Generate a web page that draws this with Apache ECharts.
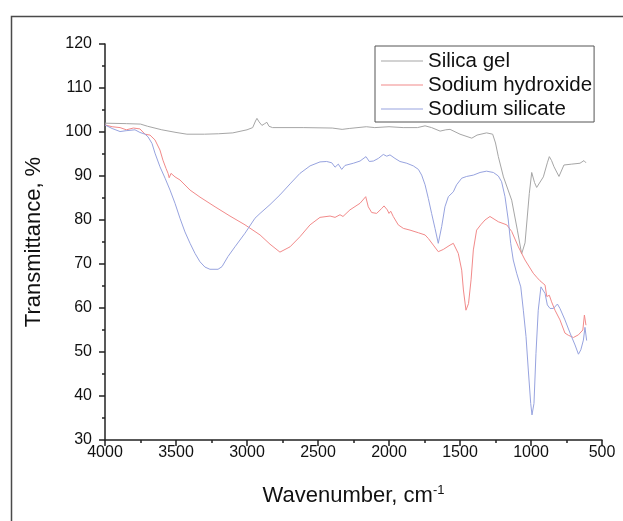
<!DOCTYPE html>
<html><head><meta charset="utf-8">
<script src="https://cdn.jsdelivr.net/npm/echarts@6/dist/echarts.min.js"></script>
<style>html,body{margin:0;padding:0;background:#fff}#c{width:623px;height:521px}</style>
</head><body><div id="c"></div>
<script>
const seriesNames = ['Silica gel', 'Sodium hydroxide', 'Sodium silicate'];
const xTicks = [4000, 3500, 3000, 2500, 2000, 1500, 1000, 500];
const yTicks = [30, 40, 50, 60, 70, 80, 90, 100, 110, 120];

const silicaWn = [4000,3850,3750,3700,3600,3500,3423,3300,3200,3100,3000,2960,2940,2930,2915,2895,2875,2860,2845,2820,2600,2400,2330,2280,2160,2100,2000,1900,1800,1746,1700,1640,1600,1570,1500,1417,1380,1313,1270,1250,1230,1194,1136,1096,1066,1042,1012,995,975,960,913,885,871,855,838,803,768,713,655,627,613];
const silicaT = [102,101.9,101.8,101.3,100.5,99.9,99.5,99.5,99.6,99.8,100.5,101,102.5,103.1,102.3,101.5,101.9,102.2,101.3,101,101,100.9,100.6,100.8,101.2,101,101.2,101,101,101.4,101,100.2,100.5,100.6,99.5,98.6,99.3,99.8,99.5,97.5,94.4,89.8,84.5,77.7,72.3,74.8,86,90.8,88.5,87.4,89.8,93,94.4,93.5,92.1,89.9,92.5,92.7,92.9,93.5,93];

const hydroxWn = [4000,3950,3894,3850,3800,3754,3718,3683,3648,3613,3592,3570,3556,3548,3535,3507,3472,3401,3331,3225,3120,3014,2908,2838,2768,2697,2627,2556,2486,2415,2380,2345,2324,2275,2204,2164,2146,2122,2087,2052,2035,2012,2000,1988,1970,1935,1899,1852,1793,1746,1723,1688,1653,1618,1570,1547,1512,1488,1476,1458,1440,1422,1406,1383,1354,1324,1289,1230,1171,1136,1089,1042,984,960,937,901,889,871,855,831,796,761,737,701,666,635,624,613];
const hydroxT = [101.6,101.2,101,100.5,100.9,100.7,99.5,99.3,98.2,95.9,93.6,91.7,90.6,89.6,90.6,89.8,89.1,86.8,85.2,83,80.9,78.9,76.6,74.5,72.7,73.9,76.2,78.9,80.6,80.9,80.6,81.2,80.8,82.3,83.8,85.3,83,81.7,81.5,82.6,83.2,82.3,81.5,82,80.8,78.9,78.1,77.7,77.1,76.6,75.8,74.3,72.8,73.3,74.3,74.7,72.4,68.6,64.1,59.5,61,66.4,73.2,77.7,78.9,80,80.8,79.6,78.9,77.4,73.9,70.9,67.9,67,66.2,65.2,62.6,62.9,61.4,59.5,57.3,54.3,53.8,53.3,53.9,55,58.4,56.1];

const silicateWn = [4000,3950,3894,3850,3789,3754,3718,3697,3669,3648,3613,3577,3542,3507,3472,3437,3401,3366,3331,3296,3261,3204,3176,3134,3085,3014,2944,2908,2838,2768,2697,2627,2556,2486,2439,2403,2380,2357,2333,2310,2251,2204,2162,2139,2110,2075,2040,2016,1993,1958,1923,1875,1829,1793,1770,1746,1723,1700,1676,1653,1629,1606,1582,1547,1524,1488,1453,1406,1359,1313,1265,1230,1207,1183,1160,1143,1125,1101,1072,1054,1035,1019,1002,993,979,965,949,930,921,901,885,866,842,814,796,761,725,690,666,649,631,620,608];
const silicateT = [101.6,100.8,100.1,100.3,100.5,99.9,99.5,98.9,97.4,95.2,92.1,89.5,86.8,83.8,80.4,77.3,74.7,72.4,70.5,69.3,68.8,68.8,69.4,71.7,73.9,77,80.4,81.5,83.5,85.7,88.2,90.6,92.3,93.2,93.3,93,92,92.7,91.5,92.4,92.9,93.4,94.4,93.3,93.4,94,94.9,94.5,94.8,94,93.3,92.9,92.3,91.5,90.2,88,84.9,81.5,78.1,74.7,78.5,83,85.3,86.4,88,89.5,89.9,90.2,90.8,91.1,90.8,90,88.7,85.3,80,74.7,70.9,67.9,64.8,59.5,53.5,45.9,38.3,35.7,38.3,49.7,59.5,64.8,65.2,63.3,60.7,59.9,59.9,60.9,59.9,57.3,54.3,51.6,49.5,50.5,52.7,55.6,52.6];

const pair = (xs, ys) => xs.map((x, i) => [x, ys[i]]);
const colors = ['#a6a6a6', '#f28a8a', '#97a3df'];
const font = '"Liberation Sans", Arial, sans-serif';

const chart = echarts.init(document.getElementById('c'), null, {renderer: 'canvas'});
chart.setOption({
  animation: false,
  backgroundColor: '#fff',
  color: colors,
  graphic: [{
    type: 'rect', left: 9, top: 14, silent: true,
    shape: {width: 700, height: 600},
    style: {fill: 'none', stroke: '#4a4a4a', lineWidth: 1.5}
  }],
  grid: {left: 105, right: 21, top: 44, bottom: 81, containLabel: false},
  legend: {
    orient: 'vertical', left: 375, top: 46,
    data: seriesNames,
    icon: 'rect', itemWidth: 42, itemHeight: 1, itemGap: 0,
    padding: [3, 2, 1, 6],
    borderColor: '#555', borderWidth: 1, borderRadius: 0,
    backgroundColor: '#fff',
    textStyle: {fontFamily: font, fontSize: 20.5, color: '#111', lineHeight: 24}
  },
  xAxis: {
    type: 'value', inverse: true, min: 500, max: 4000, interval: 500,
    name: 'Wavenumber, cm{sup|-1}', nameLocation: 'middle', nameGap: 44,
    nameTextStyle: {fontFamily: font, fontSize: 22, color: '#111',
      rich: {sup: {fontFamily: font, fontSize: 13, color: '#111', verticalAlign: 'top', padding: [0,0,10,0]}}},
    axisLine: {show: true, onZero: false, lineStyle: {color: '#222', width: 1.5}},
    axisTick: {show: true, inside: false, length: 6, lineStyle: {color: '#222', width: 1.5}},
    minorTick: {show: true, splitNumber: 2, length: 3, lineStyle: {color: '#222', width: 1.5}},
    axisLabel: {fontFamily: font, fontSize: 16, color: '#111', margin: 5,
      formatter: v => xTicks.includes(v) ? String(v) : ''},
    splitLine: {show: false}
  },
  yAxis: {
    type: 'value', min: 30, max: 120, interval: 10,
    name: 'Transmittance, %', nameLocation: 'middle', nameGap: 60, nameRotate: 90,
    nameTextStyle: {fontFamily: font, fontSize: 22, color: '#111'},
    axisLine: {show: true, onZero: false, lineStyle: {color: '#222', width: 1.5}},
    axisTick: {show: true, inside: false, length: 6, lineStyle: {color: '#222', width: 1.5}},
    minorTick: {show: true, splitNumber: 2, length: 3, lineStyle: {color: '#222', width: 1.5}},
    axisLabel: {fontFamily: font, fontSize: 16, color: '#111', margin: 13,
      formatter: v => yTicks.includes(v) ? String(v) : ''},
    splitLine: {show: false}
  },
  series: [
    {name: seriesNames[0], type: 'line', data: pair(silicaWn, silicaT), showSymbol: false, symbol: 'none', lineStyle: {width: 1, color: colors[0]}, itemStyle: {color: colors[0]}},
    {name: seriesNames[1], type: 'line', data: pair(hydroxWn, hydroxT), showSymbol: false, symbol: 'none', lineStyle: {width: 1, color: colors[1]}, itemStyle: {color: colors[1]}},
    {name: seriesNames[2], type: 'line', data: pair(silicateWn, silicateT), showSymbol: false, symbol: 'none', lineStyle: {width: 1, color: colors[2]}, itemStyle: {color: colors[2]}}
  ]
});
</script></body></html>
